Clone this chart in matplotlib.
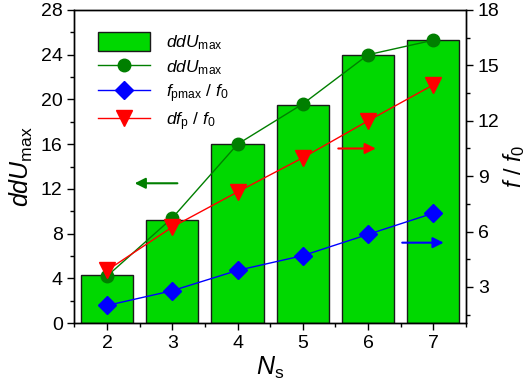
import matplotlib
matplotlib.use("Agg")
import matplotlib.pyplot as plt
from matplotlib.ticker import MultipleLocator

plt.rcParams['font.family'] = ['Liberation Sans', 'DejaVu Sans']
plt.rcParams['mathtext.fontset'] = 'custom'
plt.rcParams['mathtext.rm'] = 'Liberation Sans'
plt.rcParams['mathtext.it'] = 'Liberation Sans:italic'

ns = [2, 3, 4, 5, 6, 7]
ddu_bar = [4.25, 9.2, 16.0, 19.5, 24.0, 25.35]
ddu_line = [4.2, 9.4, 16.0, 19.6, 24.0, 25.3]
fpmax_ratio = [2.0, 2.8, 3.9, 4.7, 5.85, 7.0]
dfp_ratio = [3.9, 6.25, 8.15, 10.0, 12.0, 13.95]

fig = plt.figure(figsize=(5.28, 3.92), dpi=100)
ax = fig.add_axes([0.141, 0.176, 0.7416, 0.7985])
ax2 = ax.twinx()

bars = ax.bar(ns, ddu_bar, width=0.8, color='#00d800', edgecolor='#1a1a1a',
              linewidth=1.0, label=r'$ddU_{\mathrm{max}}$', zorder=1)
l1, = ax.plot(ns, ddu_line, '-o', color='#007f00', markersize=9, linewidth=1.0,
              label=r'$ddU_{\mathrm{max}}$', zorder=3)
l2, = ax2.plot(ns, fpmax_ratio, '-D', color='#0000ff', markersize=9, linewidth=1.0,
               label=r'$f_{\mathrm{pmax}}$ / $f_0$', zorder=3)
l3, = ax2.plot(ns, dfp_ratio, '-v', color='#ff0000', markersize=11, linewidth=1.0,
               label=r'$df_{\mathrm{p}}$ / $f_0$', zorder=3)

ax.set_xlim(1.5, 7.5)
ax.set_ylim(0, 28)
ax2.set_ylim(1.05, 18)

ax.xaxis.set_major_locator(MultipleLocator(1))
ax.xaxis.set_minor_locator(MultipleLocator(0.5))
ax.yaxis.set_major_locator(MultipleLocator(4))
ax.yaxis.set_minor_locator(MultipleLocator(2))
ax2.yaxis.set_major_locator(MultipleLocator(3))
ax2.yaxis.set_minor_locator(MultipleLocator(1.5))

for a in (ax, ax2):
    a.tick_params(which='major', direction='out', length=5, width=1.0, labelsize=14)
    a.tick_params(which='minor', direction='out', length=3, width=1.0)
    for s in a.spines.values():
        s.set_linewidth(1.0)

ax.set_xlabel(r'$N_{\mathrm{s}}$', fontsize=18, labelpad=2)
ax.set_ylabel(r'$ddU_{\mathrm{max}}$', fontsize=18, labelpad=4)
ax2.set_ylabel(r'$f$ / $f_0$', fontsize=17, labelpad=1)

# direction arrows pointing to the corresponding axis
ax.annotate('', xy=(2.38, 12.5), xytext=(3.12, 12.5),
            arrowprops=dict(arrowstyle='-|>', color='#007f00', lw=1.5, mutation_scale=16))
ax2.annotate('', xy=(6.16, 10.5), xytext=(5.5, 10.5),
             arrowprops=dict(arrowstyle='-|>', color='#ff0000', lw=1.5, mutation_scale=16))
ax2.annotate('', xy=(7.2, 5.4), xytext=(6.48, 5.4),
             arrowprops=dict(arrowstyle='-|>', color='#0000ff', lw=1.5, mutation_scale=16))

leg = ax2.legend([bars, l1, l2, l3], [h.get_label() for h in (bars, l1, l2, l3)],
                 loc='upper left', bbox_to_anchor=(0.02, 0.98), frameon=False,
                 fontsize=12.5, handlelength=3.0, handleheight=1.3, labelspacing=0.3,
                 handletextpad=0.9)

fig.savefig('out.png', dpi=100)
